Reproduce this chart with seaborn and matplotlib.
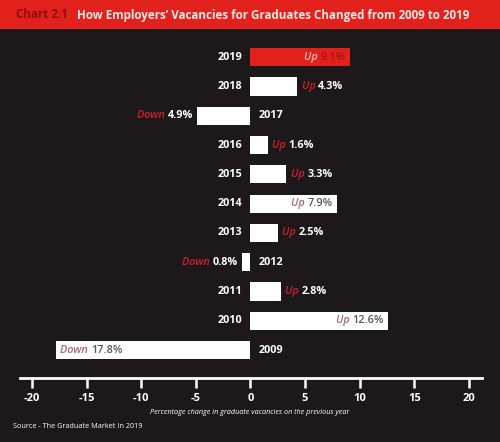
import matplotlib
matplotlib.use("Agg")
import matplotlib.pyplot as plt
import seaborn as sns
import pandas as pd
from matplotlib.patches import Rectangle

# data
years = ["2019", "2018", "2017", "2016", "2015", "2014", "2013", "2012", "2011", "2010", "2009"]
changes = [9.1, 4.3, -4.9, 1.6, 3.3, 7.9, 2.5, -0.8, 2.8, 12.6, -17.8]
ticks = [-20, -15, -10, -5, 0, 5, 10, 15, 20]

BG = "#1d191a"
RED = "#e2211d"

sns.set_style("dark", {"axes.facecolor": BG, "figure.facecolor": BG})
plt.rcParams["font.family"] = ["Open Sans", "DejaVu Sans"]

df = pd.DataFrame({"year": years, "change": changes})
palette = {y: (RED if i == 0 else "#ffffff") for i, y in enumerate(years)}

fig = plt.figure(figsize=(5, 4.42), dpi=100)
fig.patch.set_facecolor(BG)
ax = fig.add_axes([0.04, 0.1448, 0.924, 0.779])
ax.set_facecolor(BG)

sns.barplot(data=df, x="change", y="year", hue="year", palette=palette,
            order=years, width=0.62, legend=False, ax=ax, saturation=1,
            edgecolor="none")

ax.set_xlim(-21.1, 21.2)
ax.set_ylim(10.95, -0.8)

# axis styling
for s in ["top", "left", "right"]:
    ax.spines[s].set_visible(False)
ax.spines["bottom"].set_color("white")
ax.spines["bottom"].set_linewidth(2)
ax.set_xticks(ticks)
ax.set_xticklabels([str(t) for t in ticks])
ax.tick_params(axis="x", direction="out", length=7, width=1.8, color="white",
               labelcolor="white", labelsize=8, pad=4, bottom=True)
for lab in ax.get_xticklabels():
    lab.set_fontweight("bold")
ax.set_yticks([])
ax.set_xlabel("")
ax.set_ylabel("")
ax.grid(False)

FS = 7.8
for i, (yr, v) in enumerate(zip(years, changes)):
    word = "Up " if v > 0 else "Down "
    num = f"{abs(v):.1f}%"
    inside = abs(v) > 7
    # year label on the other side of zero
    if v > 0:
        ax.annotate(yr, xy=(0, i), xytext=(-6, 0), textcoords="offset points",
                    ha="right", va="center", color="white", fontsize=FS, fontweight="bold")
    else:
        ax.annotate(yr, xy=(0, i), xytext=(6, 0), textcoords="offset points",
                    ha="left", va="center", color="white", fontsize=FS, fontweight="bold")

    if inside:
        if i == 0:
            wc, nc = "#f7b9b5", "#a8120f"
        else:
            wc, nc = "#a06a78", "#555555"
        nw = "semibold"
    else:
        wc, nc, nw = "#d0202a", "white", "bold"

    if v > 0 and inside:
        t = ax.annotate(num, xy=(v, i), xytext=(-3, 0), textcoords="offset points",
                        ha="right", va="center", color=nc, fontsize=FS, fontweight=nw)
        ax.annotate(word, xy=(0, 0.5), xycoords=t, ha="right", va="center",
                    color=wc, fontsize=FS, style="italic", fontweight="semibold")
    elif v > 0:
        t = ax.annotate(word, xy=(v, i), xytext=(3, 0), textcoords="offset points",
                        ha="left", va="center", color=wc, fontsize=FS, style="italic",
                        fontweight="semibold")
        ax.annotate(num, xy=(1, 0.5), xycoords=t, ha="left", va="center",
                    color=nc, fontsize=FS, fontweight=nw)
    elif inside:
        t = ax.annotate(word, xy=(v, i), xytext=(3, 0), textcoords="offset points",
                        ha="left", va="center", color=wc, fontsize=FS, style="italic",
                        fontweight="semibold")
        ax.annotate(num, xy=(1, 0.5), xycoords=t, ha="left", va="center",
                    color=nc, fontsize=FS, fontweight=nw)
    else:
        t = ax.annotate(num, xy=(v, i), xytext=(-3, 0), textcoords="offset points",
                        ha="right", va="center", color=nc, fontsize=FS, fontweight=nw)
        ax.annotate(word, xy=(0, 0.5), xycoords=t, ha="right", va="center",
                    color=wc, fontsize=FS, style="italic", fontweight="semibold")

# header band
fig.patches.append(Rectangle((0, 1 - 29 / 442), 1, 29 / 442, transform=fig.transFigure,
                             facecolor=RED, edgecolor="none", zorder=0))
t1 = fig.text(0.032, 1 - 15 / 442, "Chart 2.1", color="#8e0f10", fontsize=8.4,
              fontweight="bold", va="center", ha="left")
fig.text(0.154, 1 - 15 / 442, "How Employers’ Vacancies for Graduates Changed from 2009 to 2019",
         color="#fde8e6", fontsize=8.4, fontweight="bold", va="center", ha="left")

fig.text(0.5, 1 - 412 / 442, "Percentage change in graduate vacancies on the previous year",
         color="white", fontsize=5.2, style="italic", ha="center", va="center")
fig.text(0.026, 1 - 427 / 442, "Source - The Graduate Market In 2019",
         color="white", fontsize=5.2, ha="left", va="center")

fig.savefig("out.png", dpi=100, facecolor=BG)
